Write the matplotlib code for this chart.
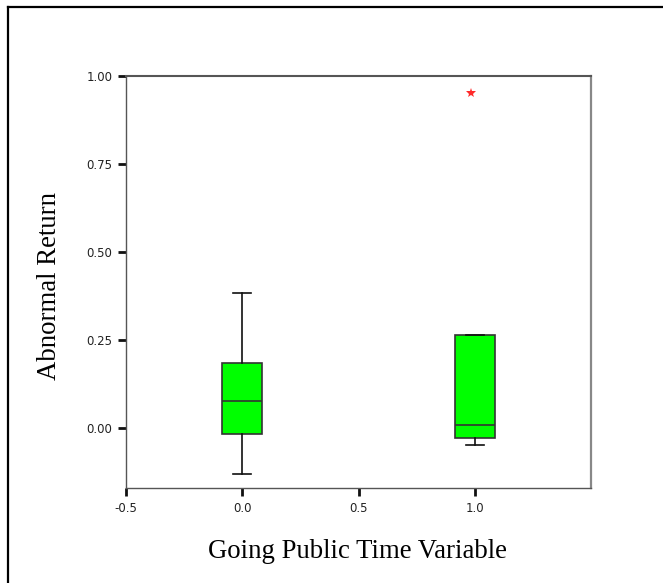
import matplotlib
matplotlib.use("Agg")
import matplotlib.pyplot as plt
from matplotlib.lines import Line2D

# --- Data ---
groups = [0.0, 1.0]
whislo = [-0.13, -0.048]
q1 = [-0.017, -0.028]
medians = [0.077, 0.008]
q3 = [0.185, 0.265]
whishi = [0.384, 0.265]
outlier_x = [0.985]
outlier_y = [0.952]
xticks = [-0.5, 0.0, 0.5, 1.0]
yticks = [0.0, 0.25, 0.5, 0.75, 1.0]

W, H = 663, 583
fig = plt.figure(figsize=(W / 100, H / 100), dpi=100)
ax = fig.add_axes([126 / W, 1 - 488 / H, (591 - 126) / W, (488 - 76) / H])

stats = []
for i in range(len(groups)):
    stats.append({"whislo": whislo[i], "q1": q1[i], "med": medians[i],
                  "q3": q3[i], "whishi": whishi[i], "fliers": []})

ax.bxp(stats, positions=groups, widths=0.172, capwidths=0.078,
       patch_artist=True, showfliers=False,
       boxprops=dict(facecolor="#00ff00", edgecolor="#333333", linewidth=1.2),
       medianprops=dict(color="#333333", linewidth=1.2),
       whiskerprops=dict(color="#111111", linewidth=1.2),
       capprops=dict(color="#111111", linewidth=1.2))

ax.plot(outlier_x, outlier_y, linestyle="none", marker="*", markersize=7.5,
        color="#ff2a2a", markeredgewidth=0)

ax.set_xlim(-0.5, 1.5)
ax.set_ylim(-0.17, 1.0)
ax.set_xticks(xticks)
ax.set_xticklabels(["%.1f" % v for v in xticks])
ax.set_yticks(yticks)
ax.set_yticklabels(["%.2f" % v for v in yticks])
ax.tick_params(direction="out", length=5.8, width=2, color="#111111",
               labelsize=8.5, pad=4, labelcolor="#222222")
for lab in ax.get_xticklabels() + ax.get_yticklabels():
    lab.set_family("DejaVu Sans")

for side in ["left", "bottom", "top"]:
    ax.spines[side].set_color("#555555")
    ax.spines[side].set_linewidth(1)
ax.spines["top"].set_linewidth(1.5)
ax.spines["right"].set_color("#888888")
ax.spines["right"].set_linewidth(1.6)

fig.text(50 / W, 1 - 286 / H, "Abnormal Return", rotation=90,
         ha="center", va="center", fontsize=19.3, family="Liberation Serif")
fig.text(357 / W, 1 - 551 / H, "Going Public Time Variable",
         ha="center", va="center", fontsize=19.3, family="Liberation Serif")

# outer frame (only top and left edges show)
fig.add_artist(Line2D([7.5 / W, 7.5 / W], [0, 1 - 6.5 / H], color="black", linewidth=1.6))
fig.add_artist(Line2D([7.5 / W, 1], [1 - 6.5 / H, 1 - 6.5 / H], color="black", linewidth=1.6))

fig.savefig("out.png", dpi=100)
